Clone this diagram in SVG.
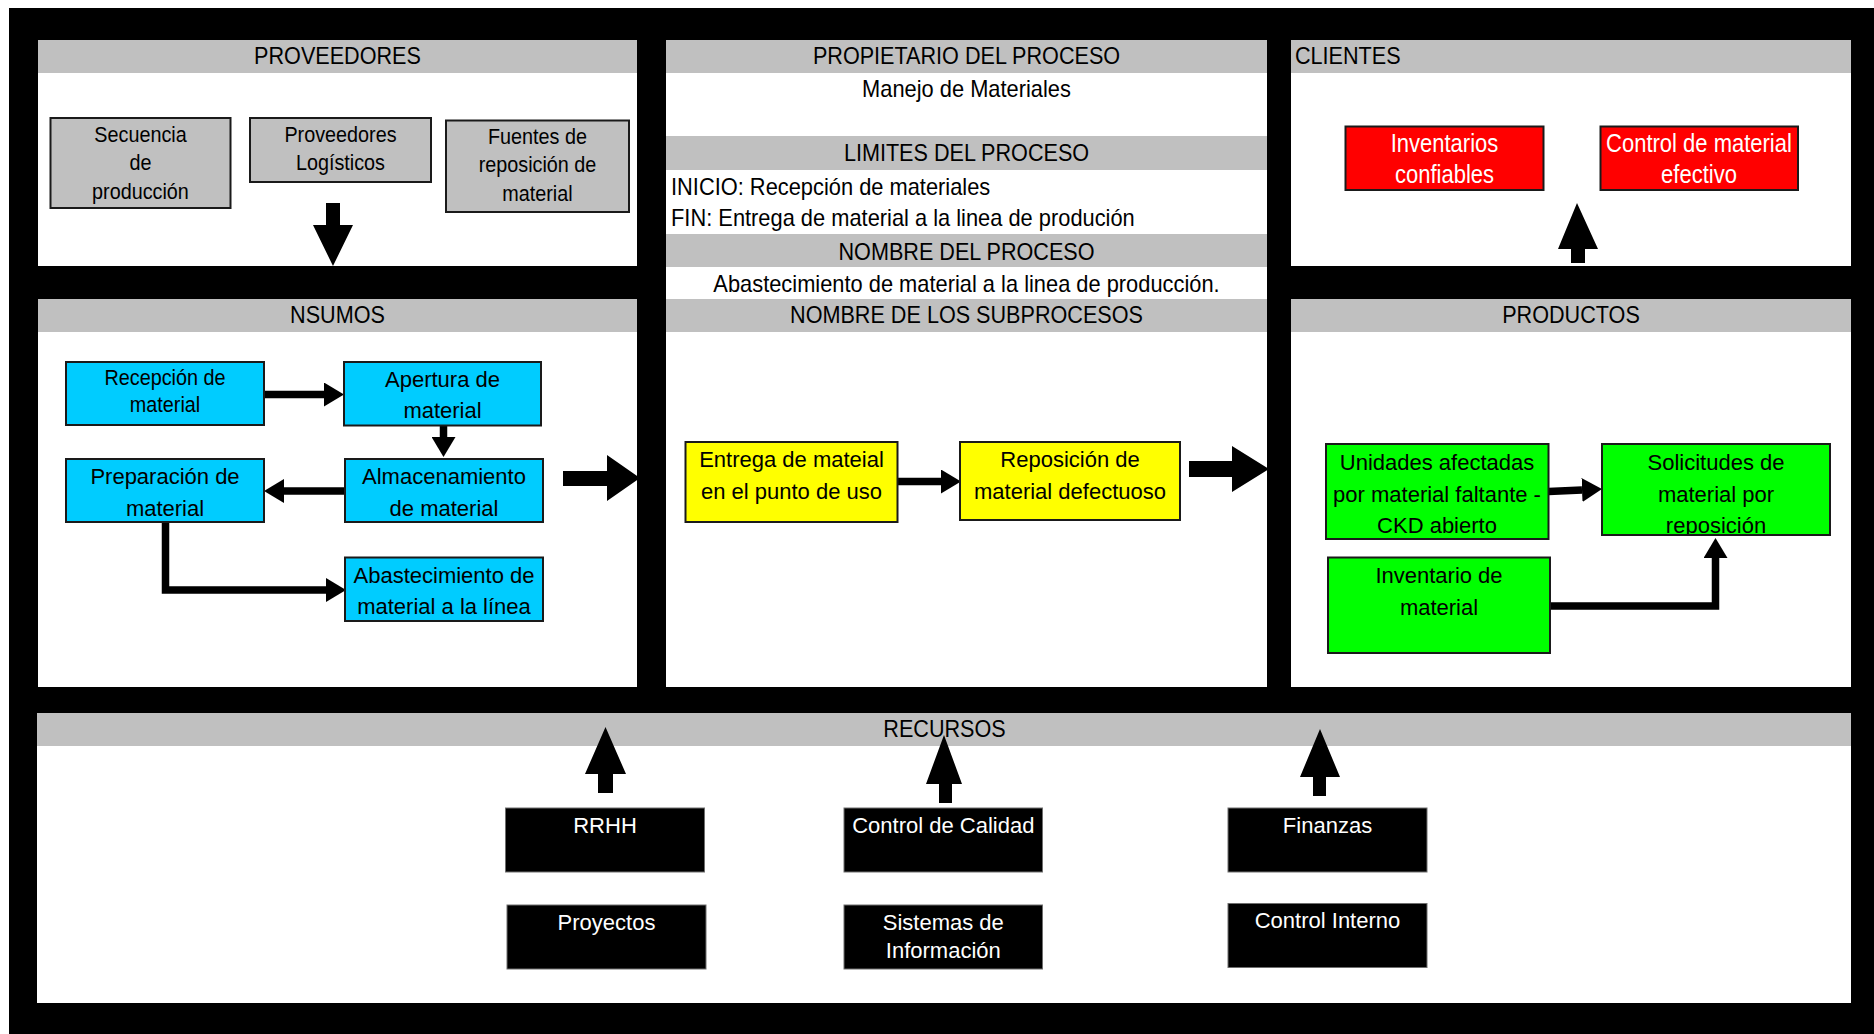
<svg xmlns="http://www.w3.org/2000/svg" width="1874" height="1034" viewBox="0 0 1874 1034">
  <defs>
    <style>
      text { font-family: "Liberation Sans", Arial, sans-serif; fill: #000; transform-box: fill-box; transform: scaleX(0.9); }
      .c { text-anchor: middle; transform-origin: center; }
      .l { text-anchor: start; transform-origin: left; }
      .h { font-size: 24px; }
      .b { font-size: 23px; transform: scaleX(0.95); }
      .n { font-size: 22px; }
      .m { font-size: 22px; transform: none; }
      .r { font-size: 25px; transform: scaleX(0.88); }
      .w { fill: #fff; }
      .panel { fill: #fff; }
      .hdr { fill: #c0c0c0; }
      .gray { fill: #c0c0c0; stroke: #1a1a1a; stroke-width: 2; }
      .blue { fill: #00ccff; stroke: #1a1a1a; stroke-width: 2; }
      .yellow { fill: #ffff00; stroke: #1a1a1a; stroke-width: 2; }
      .green { fill: #00ff00; stroke: #1a1a1a; stroke-width: 2; }
      .red { fill: #ff0000; stroke: #1a1a1a; stroke-width: 2; }
      .dark { fill: #000; stroke: #6e6e6e; stroke-width: 1; }
      .link { fill: none; stroke: #000; stroke-width: 7.5; }
      .block { fill: #000; }
    </style>
    <marker id="head" markerUnits="userSpaceOnUse" markerWidth="21" markerHeight="24" refX="0" refY="12" orient="auto">
      <path d="M0,0 L20,12 L0,24 z" fill="#000"/>
    </marker>
    <clipPath id="clipSolicitudes">
      <rect x="1602" y="444" width="228" height="91"/>
    </clipPath>
  </defs>

  <!-- frame -->
  <rect x="0" y="0" width="1874" height="1034" fill="#fff"/>
  <rect x="9" y="8" width="1865" height="1026" fill="#000"/>

  <!-- panels -->
  <g id="panel-proveedores">
    <rect class="panel" x="38" y="40" width="599" height="226"/>
    <rect class="hdr" x="38" y="40" width="599" height="33"/>
    <text class="c h" x="337.5" y="64">PROVEEDORES</text>
  </g>
  <g id="panel-centro">
    <rect class="panel" x="666" y="40" width="601" height="647"/>
    <rect class="hdr" x="666" y="40" width="601" height="33"/>
    <text class="c h" x="966.5" y="64">PROPIETARIO DEL PROCESO</text>
    <text class="c b" x="966.5" y="97.5">Manejo de Materiales</text>
    <rect class="hdr" x="666" y="136" width="601" height="34"/>
    <text class="c h" x="966.5" y="161.5">LIMITES DEL PROCESO</text>
    <text class="l b" x="671" y="195">INICIO: Recepción de materiales</text>
    <text class="l b" x="671" y="226.5">FIN: Entrega de material a la linea de produción</text>
    <rect class="hdr" x="666" y="234" width="601" height="33"/>
    <text class="c h" x="966.5" y="260">NOMBRE DEL PROCESO</text>
    <text class="c b" x="966.5" y="292.5">Abastecimiento de material a la linea de producción.</text>
    <rect class="hdr" x="666" y="299" width="601" height="33"/>
    <text class="c h" x="966.5" y="323.5">NOMBRE DE LOS SUBPROCESOS</text>
  </g>
  <g id="panel-clientes">
    <rect class="panel" x="1291" y="40" width="560" height="226"/>
    <rect class="hdr" x="1291" y="40" width="560" height="33"/>
    <text class="l h" x="1295" y="64">CLIENTES</text>
  </g>
  <g id="panel-insumos">
    <rect class="panel" x="38" y="299" width="599" height="388"/>
    <rect class="hdr" x="38" y="299" width="599" height="33"/>
    <text class="c h" x="337.5" y="323.5">NSUMOS</text>
  </g>
  <g id="panel-productos">
    <rect class="panel" x="1291" y="299" width="560" height="388"/>
    <rect class="hdr" x="1291" y="299" width="560" height="33"/>
    <text class="c h" x="1571" y="323.5">PRODUCTOS</text>
  </g>
  <g id="panel-recursos">
    <rect class="panel" x="37" y="713" width="1814" height="290"/>
    <rect class="hdr" x="37" y="713" width="1814" height="33"/>
    <text class="c h" x="944.5" y="737">RECURSOS</text>
  </g>

  <!-- connectors -->
  <g id="connectors">
    <!-- block arrows between panels -->
    <polygon class="block" points="326,203 340,203 340,225 353,225 333,266 313,225 326,225"/>
    <polygon class="block" points="1571,263 1585,263 1585,249 1598,249 1577,203 1558,249 1571,249"/>
    <polygon class="block" points="563,471 607,471 607,455 640,478 607,501 607,486 563,486"/>
    <polygon class="block" points="1189,461 1232,461 1232,446 1269,469 1232,492 1232,477 1189,477"/>
    <polygon class="block" points="598,793 613,793 613,774 626,774 605.5,727 585,774 598,774"/>
    <polygon class="block" points="939,803 952,803 952,784 962,784 944,735 926,784 939,784"/>
    <polygon class="block" points="1313,796 1326,796 1326,777 1340,777 1320,729 1300,777 1313,777"/>
    <!-- flow links inside panels -->
    <path class="link" d="M264,394.5 L324,394.5" marker-end="url(#head)"/>
    <path class="link" d="M443.5,425.5 L443.5,437" marker-end="url(#head)"/>
    <path class="link" d="M345,491 L284,491" marker-end="url(#head)"/>
    <path class="link" d="M165.5,522 L165.5,590 L326,590" marker-end="url(#head)"/>
    <path class="link" d="M897,481.5 L941,481.5" marker-end="url(#head)"/>
    <path class="link" d="M1548.5,491.5 L1582,490" marker-end="url(#head)"/>
    <path class="link" d="M1550,606 L1715.5,606 L1715.5,558" marker-end="url(#head)"/>
  </g>

  <!-- proveedores -->
  <g id="secuencia">
    <rect class="gray" x="50.5" y="118" width="180" height="90"/>
    <text class="c n" x="140.5" y="142.5">Secuencia</text>
    <text class="c n" x="140.5" y="170.5">de</text>
    <text class="c n" x="140.5" y="199">producción</text>
  </g>
  <g id="proveedores-logisticos">
    <rect class="gray" x="250" y="118" width="181" height="64"/>
    <text class="c n" x="340.5" y="142.5">Proveedores</text>
    <text class="c n" x="340.5" y="170.5">Logísticos</text>
  </g>
  <g id="fuentes-reposicion">
    <rect class="gray" x="446" y="120.5" width="183" height="91.5"/>
    <text class="c n" x="537.5" y="144">Fuentes de</text>
    <text class="c n" x="537.5" y="172.5">reposición de</text>
    <text class="c n" x="537.5" y="201">material</text>
  </g>

  <!-- clientes -->
  <g id="inventarios-confiables">
    <rect class="red" x="1345.5" y="126.5" width="198" height="63.5"/>
    <text class="c r w" x="1444.5" y="152">Inventarios</text>
    <text class="c r w" x="1444.5" y="183.5">confiables</text>
  </g>
  <g id="control-material-efectivo">
    <rect class="red" x="1600.5" y="126.5" width="197.5" height="63.5"/>
    <text class="c r w" x="1699" y="152">Control de material</text>
    <text class="c r w" x="1699" y="183.5">efectivo</text>
  </g>

  <!-- insumos -->
  <g id="recepcion">
    <rect class="blue" x="66" y="362" width="198" height="63"/>
    <text class="c n" x="165" y="385">Recepción de</text>
    <text class="c n" x="165" y="412.5">material</text>
  </g>
  <g id="apertura">
    <rect class="blue" x="344" y="362" width="197" height="63.5"/>
    <text class="c m" x="442.5" y="387">Apertura de</text>
    <text class="c m" x="442.5" y="418">material</text>
  </g>
  <g id="preparacion">
    <rect class="blue" x="66" y="459" width="198" height="63"/>
    <text class="c m" x="165" y="484">Preparación de</text>
    <text class="c m" x="165" y="516">material</text>
  </g>
  <g id="almacenamiento">
    <rect class="blue" x="345" y="459" width="198" height="63"/>
    <text class="c m" x="444" y="484">Almacenamiento</text>
    <text class="c m" x="444" y="516">de material</text>
  </g>
  <g id="abastecimiento-linea">
    <rect class="blue" x="345" y="557.5" width="198" height="63.5"/>
    <text class="c m" x="444" y="583">Abastecimiento de</text>
    <text class="c m" x="444" y="614">material a la línea</text>
  </g>

  <!-- subprocesos -->
  <g id="entrega-punto-uso">
    <rect class="yellow" x="685.5" y="442" width="212" height="80"/>
    <text class="c m" x="791.5" y="466.5">Entrega de mateial</text>
    <text class="c m" x="791.5" y="499">en el punto de uso</text>
  </g>
  <g id="reposicion-defectuoso">
    <rect class="yellow" x="960" y="442" width="220" height="78"/>
    <text class="c m" x="1070" y="466.5">Reposición de</text>
    <text class="c m" x="1070" y="499">material defectuoso</text>
  </g>

  <!-- productos -->
  <g id="unidades-afectadas">
    <rect class="green" x="1326" y="444" width="222.5" height="95"/>
    <text class="c m" x="1437" y="470">Unidades afectadas</text>
    <text class="c m" x="1437" y="501.5">por material faltante -</text>
    <text class="c m" x="1437" y="533">CKD abierto</text>
  </g>
  <g id="solicitudes">
    <rect class="green" x="1602" y="444" width="228" height="91"/>
    <g clip-path="url(#clipSolicitudes)">
      <text class="c m" x="1716" y="470">Solicitudes de</text>
      <text class="c m" x="1716" y="501.5">material por</text>
      <text class="c m" x="1716" y="533">reposición</text>
    </g>
    <rect x="1602" y="444" width="228" height="91" fill="none" stroke="#1a1a1a" stroke-width="2"/>
  </g>
  <g id="inventario-material">
    <rect class="green" x="1328" y="557.5" width="222" height="95.5"/>
    <text class="c m" x="1439" y="583">Inventario de</text>
    <text class="c m" x="1439" y="615">material</text>
  </g>

  <!-- recursos -->
  <g id="rrhh">
    <rect class="dark" x="505.5" y="808" width="199" height="64"/>
    <text class="c m w" x="605" y="833">RRHH</text>
  </g>
  <g id="proyectos">
    <rect class="dark" x="507" y="905" width="199" height="64"/>
    <text class="c m w" x="606.5" y="930">Proyectos</text>
  </g>
  <g id="control-calidad">
    <rect class="dark" x="844" y="808" width="198.5" height="64"/>
    <text class="c m w" x="943.3" y="833">Control de Calidad</text>
  </g>
  <g id="sistemas-informacion">
    <rect class="dark" x="844" y="905" width="198.5" height="64"/>
    <text class="c m w" x="943.3" y="930">Sistemas de</text>
    <text class="c m w" x="943.3" y="958">Información</text>
  </g>
  <g id="finanzas">
    <rect class="dark" x="1228" y="808" width="199" height="64"/>
    <text class="c m w" x="1327.5" y="833">Finanzas</text>
  </g>
  <g id="control-interno">
    <rect class="dark" x="1228" y="903.5" width="199" height="64"/>
    <text class="c m w" x="1327.5" y="928">Control Interno</text>
  </g>
</svg>
